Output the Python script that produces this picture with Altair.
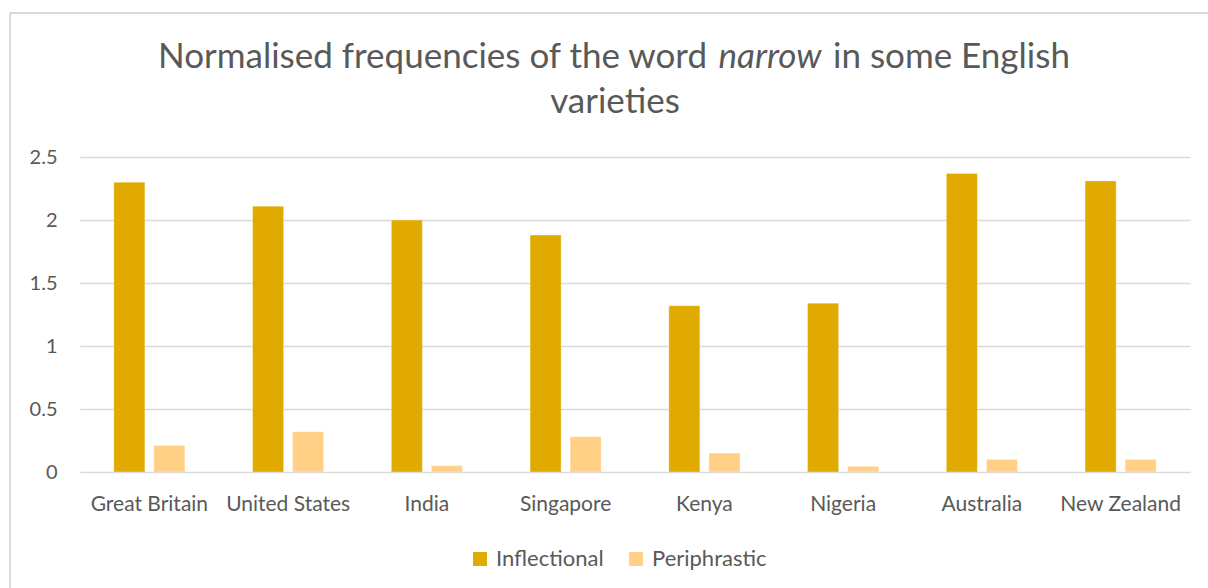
import altair as alt
import pandas as pd

countries = ["Great Britain", "United States", "India", "Singapore",
             "Kenya", "Nigeria", "Australia", "New Zealand"]
inflectional = [2.30, 2.11, 2.00, 1.88, 1.32, 1.34, 2.37, 2.31]
periphrastic = [0.21, 0.32, 0.05, 0.28, 0.15, 0.045, 0.10, 0.10]
series = ["Inflectional", "Periphrastic"]
colors = ["#E1AA00", "#FFD086"]
y_ticks = [0, 0.5, 1, 1.5, 2, 2.5]
title_left = "Normalised frequencies of the word"
title_italic = "narrow"
title_right = "in some English"
title_line2 = "varieties"

FONT = "Lato"
GREY = "#595959"
W, H = 1110, 315

rows = []
for c, a, b in zip(countries, inflectional, periphrastic):
    rows.append({"Country": c, "Series": series[0], "Value": a})
    rows.append({"Country": c, "Series": series[1], "Value": b})
df = pd.DataFrame(rows)

bars = alt.Chart(df).mark_bar(stroke="#ffffff", strokeOpacity=0.5, strokeWidth=0.6).encode(
    x=alt.X("Country:N", sort=countries,
            scale=alt.Scale(paddingInner=0.488, paddingOuter=0.244),
            axis=alt.Axis(title=None, labelAngle=0, domain=False, ticks=False,
                          labelFontSize=21, labelColor=GREY, labelFont=FONT,
                          labelPadding=21)),
    xOffset=alt.XOffset("Series:N", sort=series,
                        scale=alt.Scale(paddingInner=0.225, paddingOuter=0)),
    y=alt.Y("Value:Q", scale=alt.Scale(domain=[0, 2.5], nice=False),
            axis=alt.Axis(title=None, values=y_ticks, format="~g", domain=False,
                          ticks=False, gridColor="#D9D9D9", gridWidth=1.5,
                          labelFontSize=20, labelColor=GREY, labelFont=FONT,
                          labelPadding=23)),
    color=alt.Color("Series:N", sort=series,
                    scale=alt.Scale(domain=series, range=colors),
                    legend=alt.Legend(title=None, orient="none", direction="horizontal",
                                      legendX=389, legendY=391, symbolType="square",
                                      symbolSize=196, symbolStrokeWidth=0,
                                      labelFontSize=22, labelColor=GREY, labelFont=FONT,
                                      columnPadding=21, labelOffset=5)),
)

one = pd.DataFrame({"k": [0]})

def txt(s, x, y, align, italic=False):
    return alt.Chart(pd.DataFrame({"t": [s]})).mark_text(
        align=align, baseline="alphabetic", fontSize=35, font=FONT, color=GREY,
        fontStyle="italic" if italic else "normal"
    ).encode(text="t:N", x=alt.value(x), y=alt.value(y))

t1 = txt(title_left, 627, -89, "right")
t2 = txt(title_italic, 690, -89, "center", italic=True)
t3 = txt(title_right, 753, -89, "left")
t4 = txt(title_line2, 535, -44, "center")

border_top = alt.Chart(one).mark_rule(color="#D9D9D9", strokeWidth=2).encode(
    x=alt.value(-70), x2=alt.value(1140), y=alt.value(-144))
border_left = alt.Chart(one).mark_rule(color="#D9D9D9", strokeWidth=2).encode(
    x=alt.value(-70), y=alt.value(-144), y2=alt.value(440))

chart = alt.layer(border_top, border_left, bars, t1, t2, t3, t4).properties(
    width=W, height=H,
    autosize=alt.AutoSizeParams(type="none"),
    padding={"left": 80, "top": 157, "right": 18, "bottom": 116},
).configure(background="#ffffff").configure_view(stroke=None, strokeWidth=0)

chart.save("out.html", embed_options={"renderer": "svg", "actions": False})
